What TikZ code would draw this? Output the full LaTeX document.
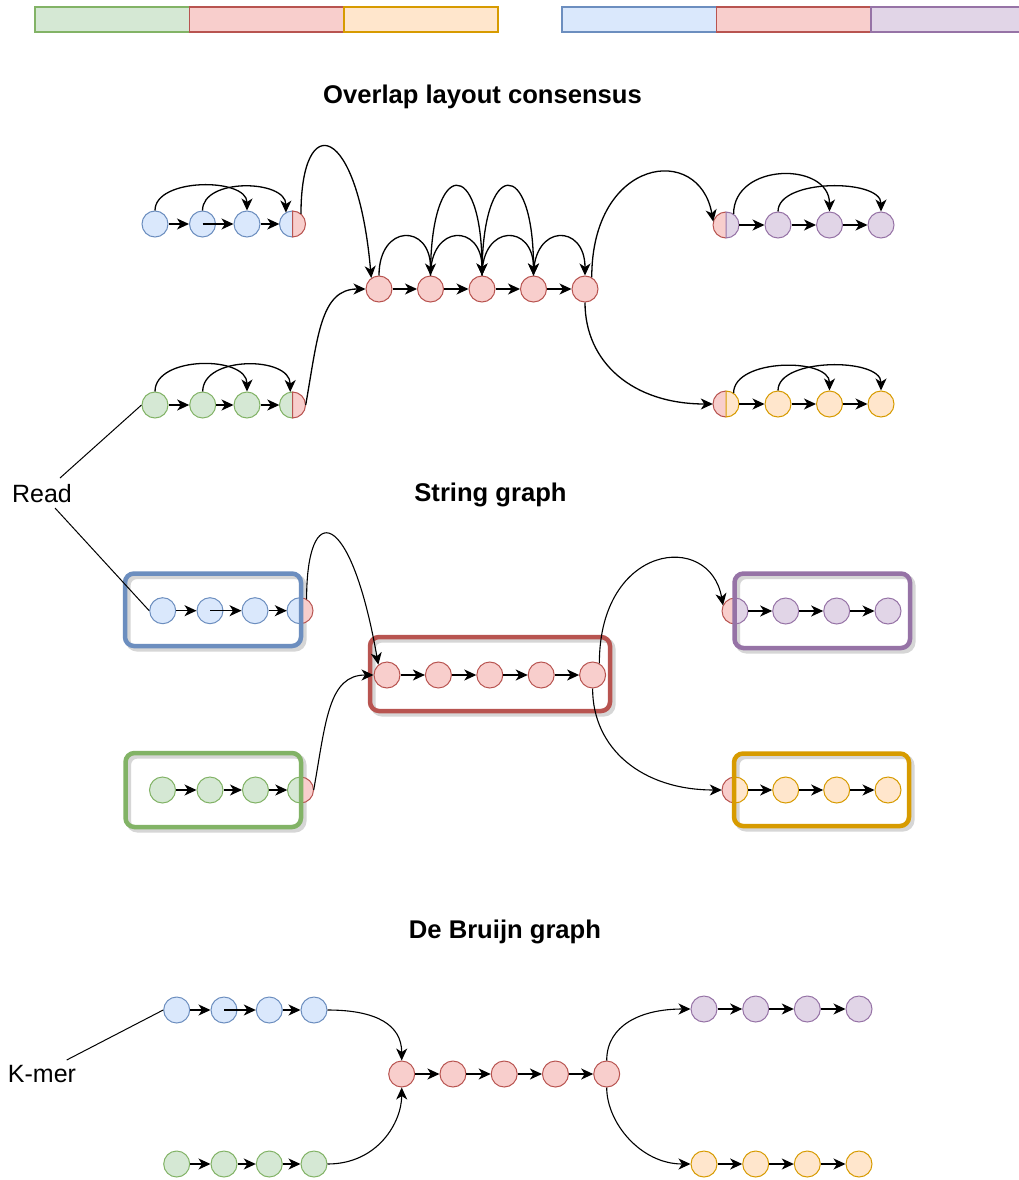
\documentclass[tikz,border=0pt]{standalone}
\usepackage{fontspec}
\setmainfont{Liberation Sans}
\usetikzlibrary{arrows.meta}
\definecolor{greenF}{HTML}{D5E8D4}\definecolor{greenD}{HTML}{82B366}
\definecolor{redF}{HTML}{F8CECC}\definecolor{redD}{HTML}{B85450}
\definecolor{orangeF}{HTML}{FFE6CC}\definecolor{orangeD}{HTML}{D79B00}
\definecolor{blueF}{HTML}{DAE8FC}\definecolor{blueD}{HTML}{6C8EBF}
\definecolor{purpleF}{HTML}{E1D5E7}\definecolor{purpleD}{HTML}{9673A6}
\tikzset{
 cn/.style={circle,minimum size=26pt,inner sep=0pt,line width=1pt},
 blc/.style={cn,draw=blueD,fill=blueF},
 grc/.style={cn,draw=greenD,fill=greenF},
 rdc/.style={cn,draw=redD,fill=redF},
 puc/.style={cn,draw=purpleD,fill=purpleF},
 orc/.style={cn,draw=orangeD,fill=orangeF},
 arr/.style={-{Stealth[length=12pt,width=11pt,inset=3.5pt]},line width=1.3pt},
 carr/.style={-{Stealth[length=12pt,width=11pt,inset=3.5pt]},line width=1.1pt},
 thinline/.style={line width=1pt},
 boxline/.style={rounded corners=9pt,line width=4.5pt},
 ttl/.style={font=\fontsize{25.6}{30}\selectfont\bfseries},
 lbl/.style={font=\fontsize{25}{30}\selectfont},
 bar/.style={line width=1.2pt},
}
% split circle: name, x, y, left fill, left draw, right fill, right draw
\newcommand\splitc[7]{%
 \node[circle,minimum size=26pt,inner sep=0pt] (#1) at (#2,#3) {};
 \fill[#4] (#2,#3) ++(0,13) arc[start angle=90,end angle=270,radius=13] -- cycle;
 \fill[#6] (#2,#3) ++(0,-13) arc[start angle=-90,end angle=90,radius=13] -- cycle;
 \draw[#5,line width=1pt] (#2,#3) ++(0,13) arc[start angle=90,end angle=270,radius=13];
 \draw[#7,line width=1pt] (#2,#3) ++(0,-13) arc[start angle=-90,end angle=90,radius=13] -- cycle;
}
\newcommand\shadowbox[4]{%
 \draw[boxline,draw=black!16,line width=5pt] (#1+3,#2-3) rectangle (#3+3,#4-3);}
\begin{document}
\begin{tikzpicture}[x=1pt,y=1pt]
\useasboundingbox (0,0) rectangle (1019,-1180);
\fill[white] (0,0) rectangle (1019,-1180);

% ---------- top bars ----------
\draw[bar,fill=greenF,draw=greenD] (35,-7) rectangle (189.5,-32);
\draw[bar,fill=redF,draw=redD] (189.5,-7) rectangle (344,-32);
\draw[bar,fill=orangeF,draw=orangeD] (344,-7) rectangle (498,-32);
\draw[bar,fill=blueF,draw=blueD] (562,-7) rectangle (716.5,-32);
\draw[bar,fill=redF,draw=redD] (716.5,-7) rectangle (871,-32);
\draw[bar,fill=purpleF,draw=purpleD] (871,-7) rectangle (1025.5,-32);

% ---------- titles ----------
\node[ttl] (t1) at (482.5,-97) {Overlap layout consensus};
\node[ttl] (t2) at (490.5,-495) {String graph};
\node[ttl] (t3) at (505,-932) {De Bruijn graph};
\node[lbl] (read) at (42,-494) {Read};
\node[lbl] (kmer) at (42,-1074) {K-mer};

% ================= Overlap layout consensus =================
\node[blc] (ob1) at (155,-224) {};
\node[blc] (ob2) at (202.5,-224) {};
\node[blc] (ob3) at (247,-224) {};
\splitc{ob4}{292.5}{-224}{blueF}{blueD}{redF}{redD}
\node[grc] (og1) at (155,-405) {};
\node[grc] (og2) at (202.7,-405) {};
\node[grc] (og3) at (247,-405) {};
\splitc{og4}{292.5}{-405}{greenF}{greenD}{redF}{redD}
\foreach \i/\x in {1/379,2/430.5,3/482,4/533.5,5/585}
  \node[rdc] (or\i) at (\x,-289) {};
\splitc{op1}{726}{-225}{redF}{redD}{purpleF}{purpleD}
\node[puc] (op2) at (778,-225) {};
\node[puc] (op3) at (829.5,-225) {};
\node[puc] (op4) at (881,-225) {};
\splitc{oo1}{726}{-404}{redF}{redD}{orangeF}{orangeD}
\node[orc] (oo2) at (778,-404) {};
\node[orc] (oo3) at (829.5,-404) {};
\node[orc] (oo4) at (881,-404) {};

% straight arrows
\draw[arr] (ob1) -- (ob2);
\draw[arr] (ob2.center) -- (ob3);
\draw[arr] (ob3) -- (ob4);
\draw[arr] (og1) -- (og2);
\draw[arr] (og2) -- (og3);
\draw[arr] (og3) -- (og4);
\foreach \a/\b in {1/2,2/3,3/4,4/5} \draw[arr] (or\a) -- (or\b);
\draw[arr] (op1) -- (op2);
\draw[arr] (op2) -- (op3);
\draw[arr] (op3) -- (op4);
\draw[arr] (oo1) -- (oo2);
\draw[arr] (oo2) -- (oo3);
\draw[arr] (oo3) -- (oo4);

% arcs
\draw[arr] (ob1.north) to[out=90,in=90,distance=33pt] (ob3.north);
\draw[arr] (ob2.north) to[out=90,in=90,distance=33pt] (ob4.120);
\draw[arr] (og1.north) to[out=90,in=90,distance=36pt] (og3.north);
\draw[arr] (og2.north) to[out=90,in=90,distance=36pt] (og4.100);
\foreach \a/\b in {1/2,2/3,3/4,4/5}
  \draw[arr] (or\a.north) to[out=90,in=90,distance=52pt] (or\b.north);
\draw[arr] (or2.north) to[out=90,in=90,distance=119pt] (or3.north);
\draw[arr] (or3.north) to[out=90,in=90,distance=119pt] (or4.north);
\draw[arr] (op1.55) to[out=90,in=90,out distance=52pt,in distance=50pt] (op3.north);
\draw[arr] (op2.north) to[out=90,in=90,distance=33pt] (op4.north);
\draw[arr] (oo1.55) to[out=90,in=90,out distance=35pt,in distance=33pt] (oo3.north);
\draw[arr] (oo2.north) to[out=90,in=90,distance=33pt] (oo4.north);

% long connectors
\draw[arr] (ob4.50) to[out=90,in=95,out distance=105pt,in distance=156pt] (or1.125);
\draw[arr] (og4.east) to[out=80,in=180,out distance=70pt,in distance=45pt] (or1.west);
\draw[arr] (or5.60) to[out=90,in=100,out distance=120pt,in distance=80pt] (op1.165);
\draw[arr] (or5.south) to[out=-90,in=180,out distance=60pt,in distance=80pt] (oo1.west);

% ================= String graph =================
\shadowbox{125}{-573.5}{301}{-646}
\shadowbox{370}{-637}{610}{-711}
\shadowbox{734.5}{-573.5}{910}{-648}
\shadowbox{734}{-753.5}{909}{-826}
\shadowbox{125.5}{-753}{301}{-827}

\node[blc] (sb1) at (162.7,-610.7) {};
\node[blc] (sb2) at (210,-610.7) {};
\node[blc] (sb3) at (255,-610.7) {};
\splitc{sb4}{300}{-610.7}{blueF}{blueD}{redF}{redD}
\node[grc] (sg1) at (162.5,-790) {};
\node[grc] (sg2) at (210,-790) {};
\node[grc] (sg3) at (255.5,-790) {};
\splitc{sg4}{300.5}{-790}{greenF}{greenD}{redF}{redD}
\foreach \i/\x in {1/387,2/438.4,3/489.8,4/541.2,5/592.6}
  \node[rdc] (sr\i) at (\x,-675) {};
\splitc{sp1}{735}{-611}{redF}{redD}{purpleF}{purpleD}
\node[puc] (sp2) at (785.7,-611) {};
\node[puc] (sp3) at (836.7,-611) {};
\node[puc] (sp4) at (888,-611) {};
\splitc{so1}{735}{-790}{redF}{redD}{orangeF}{orangeD}
\node[orc] (so2) at (785.7,-790) {};
\node[orc] (so3) at (836.7,-790) {};
\node[orc] (so4) at (888,-790) {};

\draw[boxline,draw=blueD] (125,-573.5) rectangle (301,-646);
\draw[boxline,draw=redD] (370,-637) rectangle (610,-711);
\draw[boxline,draw=purpleD] (734.5,-573.5) rectangle (910,-648);
\draw[boxline,draw=orangeD] (734,-753.5) rectangle (909,-826);
\draw[boxline,draw=greenD] (125.5,-753) rectangle (301,-827);

\draw[arr] (sb1) -- (sb2);
\draw[arr] (sb2.center) -- (sb3);
\draw[arr] (sb3) -- (sb4);
\draw[arr] (sg1) -- (sg2);
\draw[arr] (sg2) -- (sg3);
\draw[arr] (sg3) -- (sg4);
\foreach \a/\b in {1/2,2/3,3/4,4/5} \draw[arr] (sr\a) -- (sr\b);
\draw[arr] (sp1) -- (sp2);
\draw[arr] (sp2) -- (sp3);
\draw[arr] (sp3) -- (sp4);
\draw[arr] (so1) -- (so2);
\draw[arr] (so2) -- (so3);
\draw[arr] (so3) -- (so4);

\draw[carr] (sb4.60) to[out=90,in=100,out distance=100pt,in distance=160pt] (sr1.130);
\draw[carr] (sg4.east) to[out=80,in=180,out distance=70pt,in distance=45pt] (sr1.west);
\draw[carr] (sr5.60) to[out=90,in=100,out distance=120pt,in distance=76pt] (sp1.155);
\draw[carr] (sr5.south) to[out=-90,in=180,out distance=60pt,in distance=80pt] (so1.west);

% ================= De Bruijn graph =================
\foreach \i/\x in {1/176.7,2/224,3/269.3,4/314} {
  \node[blc] (db\i) at (\x,-1010) {};
  \node[grc] (dg\i) at (\x,-1164) {};
}
\foreach \i/\x in {1/401.7,2/452.95,3/504.2,4/555.45,5/606.7}
  \node[rdc] (dr\i) at (\x,-1074) {};
\foreach \i/\x in {1/704,2/755.7,3/807.3,4/859} {
  \node[puc] (dp\i) at (\x,-1009) {};
  \node[orc] (do\i) at (\x,-1164) {};
}
\draw[arr] (db1) -- (db2);
\draw[arr] (db2.center) -- (db3);
\draw[arr] (db3) -- (db4);
\foreach \a/\b in {1/2,2/3,3/4} {
  \draw[arr] (dg\a) -- (dg\b);
  \draw[arr] (dp\a) -- (dp\b);
  \draw[arr] (do\a) -- (do\b);
}
\foreach \a/\b in {1/2,2/3,3/4,4/5} \draw[arr] (dr\a) -- (dr\b);
\draw[carr] (db4.east) to[out=0,in=90,out distance=50pt,in distance=35pt] (dr1.north);
\draw[carr] (dg4.east) to[out=0,in=-90,out distance=50pt,in distance=35pt] (dr1.south);
\draw[carr] (dr5.north) to[out=90,in=180,out distance=35pt,in distance=50pt] (dp1.west);
\draw[carr] (dr5.south) to[out=-90,in=180,out distance=35pt,in distance=50pt] (do1.west);

% ---------- label lines ----------
\coordinate (readA) at (60,-478);
\coordinate (readB) at (55,-508);
\coordinate (kmA) at (66.7,-1060);
\draw[thinline] (readA) -- (og1.west);
\draw[thinline] (readB) -- (sb1.west);
\draw[thinline] (kmA) -- (db1.west);
\end{tikzpicture}
\end{document}
